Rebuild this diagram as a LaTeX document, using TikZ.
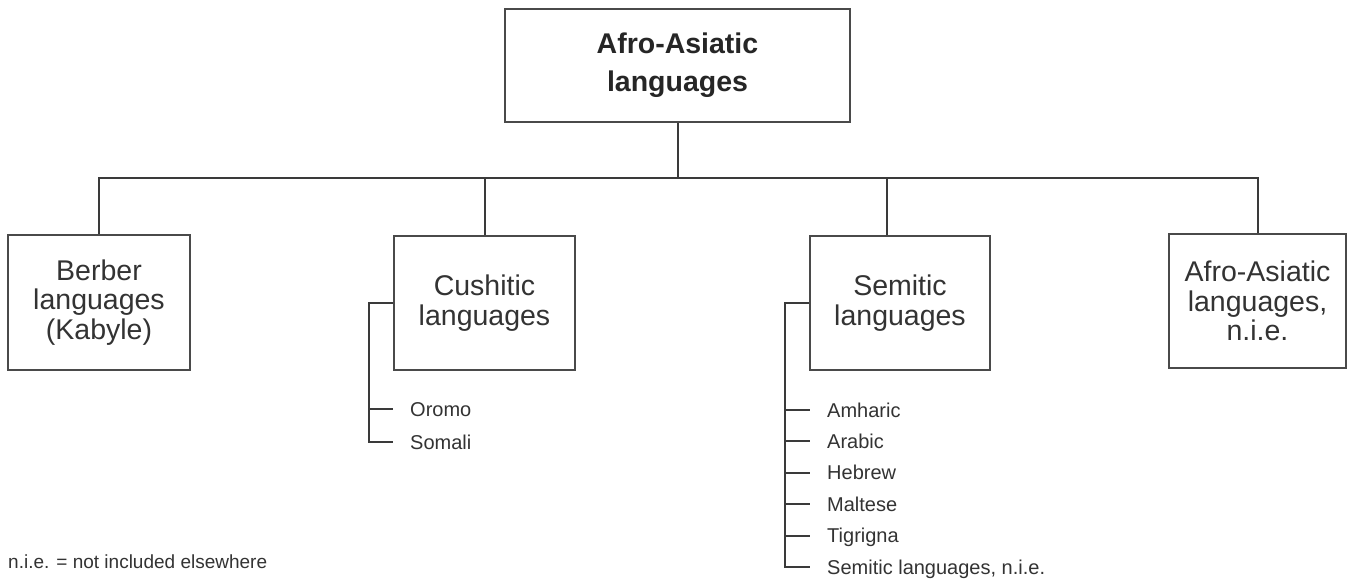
\documentclass[tikz,border=0pt]{standalone}
\usepackage{fontspec}
\setmainfont{Liberation Sans}
\usetikzlibrary{calc}
\definecolor{boxc}{HTML}{4A4A4A}
\definecolor{linec}{HTML}{3A3A3A}
\definecolor{txtc}{HTML}{333333}
\tikzset{
  catbox/.style={draw=boxc, line width=2.4pt, rectangle, align=center, inner sep=0pt,
    text=txtc, font=\fontsize{28.5}{29.5}\selectfont},
  topbox/.style={catbox, text=black!85, font=\fontsize{28.5}{38}\selectfont\bfseries},
  conn/.style={draw=linec, line width=2pt},
  item/.style={anchor=west, inner sep=0pt, text height=14.3pt, text depth=0pt,
    text=txtc, font=\fontsize{20}{22}\selectfont},
}
\begin{document}
\begin{tikzpicture}[x=1pt, y=-1pt]
\useasboundingbox (0,0) rectangle (1348,581);
\fill[white] (0,0) rectangle (1348,581);

% boxes
\node[topbox, minimum width=345pt, minimum height=113pt] (top) at (677.5,65.5) {Afro-Asiatic\\languages};
\node[catbox, minimum width=182pt, minimum height=135pt] (berber) at (99,302.5) {Berber\\languages\\(Kabyle)};
\node[catbox, minimum width=181pt, minimum height=134pt] (cush) at (484.5,303) {Cushitic\\languages};
\node[catbox, minimum width=180pt, minimum height=134pt] (sem) at (900,303) {Semitic\\languages};
\node[catbox, minimum width=177pt, minimum height=134pt] (nie) at (1257.5,301) {Afro-Asiatic\\languages,\\n.i.e.};

% tree connectors
\draw[conn] (top.south) -- ++(0,55) coordinate (hub);
\draw[conn] (berber.north) |- (hub) -| (nie.north);
\draw[conn] (cush.north) -- (cush.north |- hub);
\draw[conn] ([xshift=-13pt]sem.north) -- ([xshift=-13pt]sem.north |- hub);

% Cushitic sub-items
\node[item] (oromo) at (410,409) {Oromo};
\node[item] (somali) at (410,442) {Somali};
\coordinate (cb) at ($(cush.west)+(-24,0)$);
\draw[conn] (cush.west) -- (cb) |- ([xshift=-17pt]somali.west);
\draw[conn] (cb |- oromo.west) -- ([xshift=-17pt]oromo.west);

% Semitic sub-items
\node[item] (s1) at (827,410) {Amharic};
\node[item] (s2) at (827,441.4) {Arabic};
\node[item] (s3) at (827,472.8) {Hebrew};
\node[item] (s4) at (827,504.2) {Maltese};
\node[item] (s5) at (827,535.6) {Tigrigna};
\node[item] (s6) at (827,567) {Semitic languages, n.i.e.};
\coordinate (sb) at ($(sem.west)+(-24,0)$);
\draw[conn] (sem.west) -- (sb) |- ([xshift=-17pt]s6.west);
\foreach \i in {1,...,5}{
  \draw[conn] (sb |- s\i.west) -- ([xshift=-17pt]s\i.west);
}

% footnote
\node[anchor=base west, inner sep=0pt, text=txtc, font=\fontsize{19}{21}\selectfont] (foot) at (8,568) {n.i.e. = not included elsewhere};
\end{tikzpicture}
\end{document}
